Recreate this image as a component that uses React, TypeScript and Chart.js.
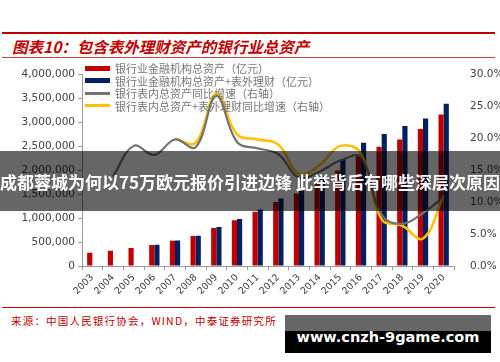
import React, { useEffect, useRef } from "react";
import { Chart, registerables } from "chart.js";

Chart.register(...registerables);

const years = ["2003","2004","2005","2006","2007","2008","2009","2010","2011","2012","2013","2014","2015","2016","2017","2018","2019","2020"];
const onBalance = [277000, 316000, 375000, 440000, 526000, 624000, 795000, 953000, 1133000, 1336000, 1514000, 1723000, 1993000, 2323000, 2490000, 2640000, 2860000, 3160000];
const withWmp = [null, null, null, 445000, 531000, 632000, 812000, 981000, 1179000, 1407000, 1616000, 1873000, 2228000, 2570000, 2752000, 2920000, 3080000, 3385000];
const growthOn = [null, 14.0, 18.8, 17.4, 19.8, 18.6, 26.6, 19.4, 18.4, 17.5, 13.8, 14.8, 16.5, 17.0, 8.0, 6.6, 8.3, 10.8];
const growthWmp = [null, null, null, null, 19.9, 19.3, 27.0, 20.6, 19.8, 19.0, 14.4, 15.8, 18.8, 17.6, 7.3, 6.3, 4.3, 11.0];

const legendLabels = [
  "银行业金融机构总资产（亿元）",
  "银行业金融机构总资产+表外理财（亿元）",
  "银行表内总资产同比增速（右轴）",
  "银行表内总资产+表外理财同比增速（右轴）",
];
const seriesColors = ["#C00000", "#002060", "#737373", "#FFC000"];

const titleText = "图表10：包含表外理财资产的银行业总资产";
const sourceText = "来源：中国人民银行协会，WIND，中泰证券研究所";
const bannerText = "成都蓉城为何以75万欧元报价引进边锋 此举背后有哪些深层次原因";
const watermarkText = "www.cnzh-9game.com";

export default function App() {
  const ref = useRef<HTMLCanvasElement | null>(null);

  useEffect(() => {
    if (!ref.current) return;
    const tickFont = { family: "DejaVu Sans", size: 10.5 };
    const chart = new Chart(ref.current, {
      type: "bar",
      data: {
        labels: years,
        datasets: [
          { type: "line", label: legendLabels[2], data: growthOn, yAxisID: "y1", borderColor: seriesColors[2], borderWidth: 2.2, pointRadius: 0, tension: 0.4, order: 0 },
          { type: "line", label: legendLabels[3], data: growthWmp, yAxisID: "y1", borderColor: seriesColors[3], borderWidth: 2.5, pointRadius: 0, tension: 0.4, order: 0 },
          { type: "bar", label: legendLabels[0], data: onBalance, yAxisID: "y", backgroundColor: seriesColors[0], categoryPercentage: 0.5, barPercentage: 1, order: 1 },
          { type: "bar", label: legendLabels[1], data: withWmp, yAxisID: "y", backgroundColor: seriesColors[1], categoryPercentage: 0.5, barPercentage: 1, order: 1 },
        ] as any,
      },
      options: {
        animation: false,
        responsive: false,
        devicePixelRatio: 1,
        layout: { padding: { top: 11, left: 0, right: 0, bottom: 0 } },
        plugins: { legend: { display: false }, tooltip: { enabled: false } },
        scales: {
          x: {
            offset: true,
            grid: { display: true, drawOnChartArea: false, drawTicks: true, tickLength: 4, color: "#9a9a9a", offset: true },
            border: { display: true, color: "#9a9a9a" },
            ticks: { font: { family: "DejaVu Sans", size: 9.5 }, color: "#404040", maxRotation: 45, minRotation: 45, padding: 2, autoSkip: false },
            afterFit: (s: any) => { s.height = 34; },
          },
          y: {
            position: "left",
            min: 0,
            max: 4000000,
            ticks: { stepSize: 500000, font: tickFont, color: "#404040", padding: 3, callback: (v: any) => Number(v).toLocaleString("en-US") },
            grid: { display: true, drawOnChartArea: false, drawTicks: true, tickLength: 4, color: "#9a9a9a" },
            border: { display: true, color: "#9a9a9a" },
            afterFit: (s: any) => { s.width = 82; },
          },
          y1: {
            position: "right",
            min: 0,
            max: 30,
            ticks: { stepSize: 5, font: tickFont, color: "#404040", padding: 8, callback: (v: any) => Number(v).toFixed(1) + "%" },
            grid: { display: false, drawOnChartArea: false },
            border: { display: false },
            afterFit: (s: any) => { s.width = 46; },
          },
        },
      } as any,
    });
    return () => chart.destroy();
  }, []);

  const cjk = '"Noto Sans CJK SC", "DejaVu Sans", sans-serif';

  return (
    <div style={{ position: "fixed", left: 0, top: 0, width: 500, height: 362, background: "#fff", overflow: "hidden" }}>
      <div style={{ position: "absolute", left: 2, top: 32, width: 493, height: 2, background: "#C00000" }} />
      <div style={{ position: "absolute", left: 12, top: 36, fontFamily: cjk, fontSize: 15.5, fontWeight: 700, fontStyle: "italic", color: "#C00000", whiteSpace: "nowrap", lineHeight: "20px" }}>{titleText}</div>
      <div style={{ position: "absolute", left: 2, top: 57, width: 493, height: 1, background: "#d04040" }} />
      <canvas ref={ref} width={500} height={240} style={{ position: "absolute", left: 0, top: 60, width: 500, height: 240 }} />
      {legendLabels.map((t, i) => (
        <div key={i} style={{ position: "absolute", left: 85, top: 62 + i * 12.6, height: 12, display: "flex", alignItems: "center", whiteSpace: "nowrap" }}>
          <div style={{ width: 25, height: i < 2 ? 5 : 3, background: seriesColors[i] }} />
          <span style={{ marginLeft: 5, fontFamily: cjk, fontSize: 11, color: "#777", lineHeight: "12px" }}>{t}</span>
        </div>
      ))}
      <div style={{ position: "absolute", left: 2, top: 307, width: 493, height: 1, background: "#C00000" }} />
      <div style={{ position: "absolute", left: 11, top: 314, fontFamily: cjk, fontSize: 10.5, letterSpacing: 1.2, color: "#C00000", whiteSpace: "nowrap", lineHeight: "14px" }}>{sourceText}</div>
      <div style={{ position: "absolute", left: 0, top: 151, width: 500, height: 60, background: "rgba(0,0,0,0.6)", display: "flex", alignItems: "center", justifyContent: "center", overflow: "hidden" }}>
        <span style={{ fontFamily: cjk, fontSize: 17, fontWeight: 700, color: "#fff", whiteSpace: "nowrap" }}>{bannerText}</span>
      </div>
      <div style={{ position: "absolute", left: 285, top: 315, width: 206, height: 38, background: "linear-gradient(#666 0, #666 16px, #000 16px)", display: "flex", alignItems: "center", justifyContent: "center" }}>
        <span style={{ fontFamily: '"DejaVu Sans", sans-serif', fontSize: 14.5, fontWeight: 700, color: "#fff", whiteSpace: "nowrap", marginTop: 6 }}>{watermarkText}</span>
      </div>
    </div>
  );
}
